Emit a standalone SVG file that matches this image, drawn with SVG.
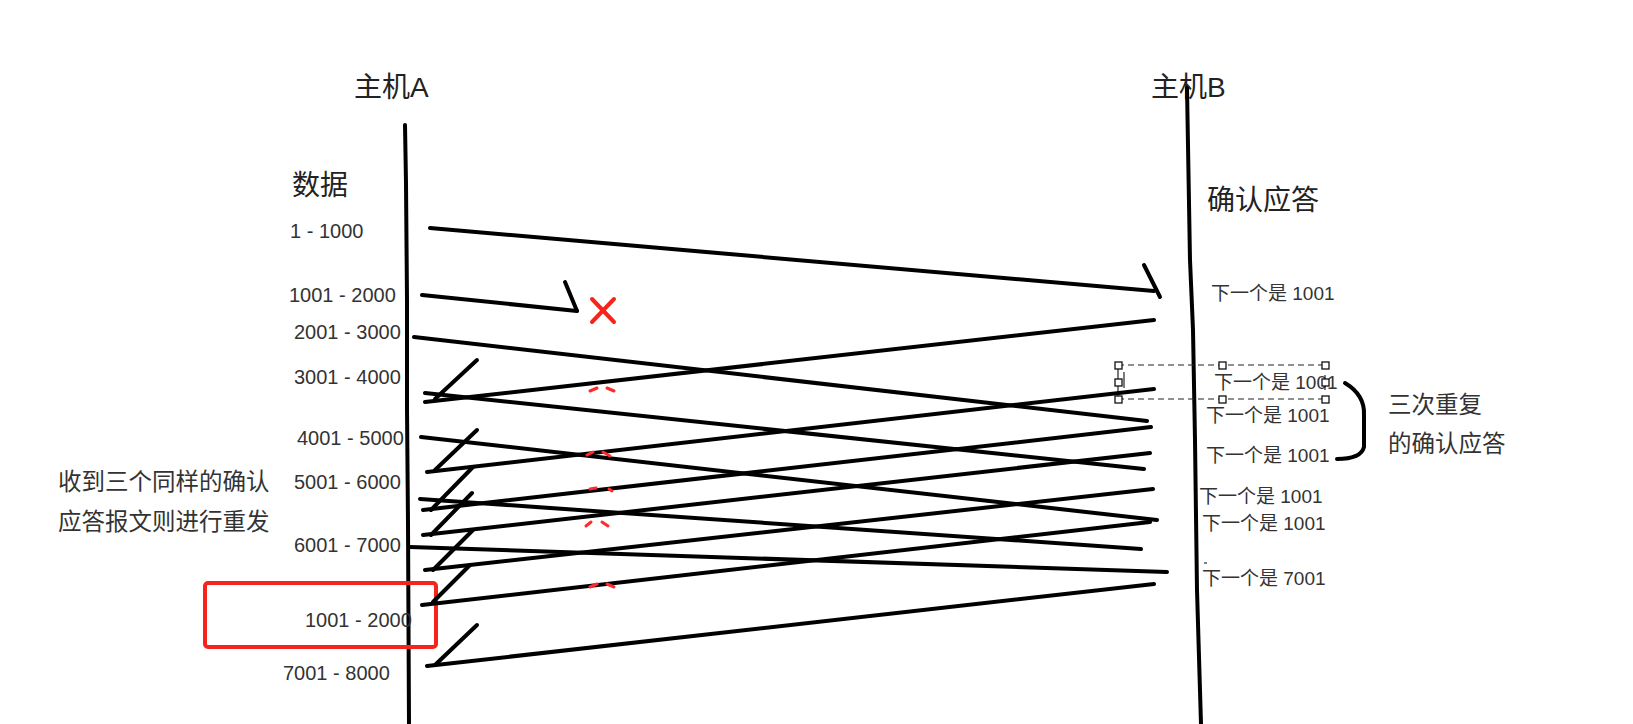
<svg xmlns="http://www.w3.org/2000/svg" width="1633" height="724" viewBox="0 0 1633 724">
<style>
.ln{fill:none;stroke:#000;stroke-width:4;stroke-linecap:round;stroke-linejoin:round}
.big{font-family:"Liberation Sans","Noto Sans CJK SC",sans-serif;font-size:28px;fill:#222}
.num{font-family:"Liberation Sans","Noto Sans CJK SC",sans-serif;font-size:20px;fill:#333}
.ack{font-family:"Liberation Sans","Noto Sans CJK SC",sans-serif;font-size:19px;fill:#333}
.note{font-family:"Noto Sans CJK SC","Liberation Sans",sans-serif;font-size:23.5px;fill:#333}
.red{fill:none;stroke:#f5251c;stroke-width:4;stroke-linecap:round}
.rmark{fill:none;stroke:#ff2a2a;stroke-width:3;stroke-linecap:round}
.hd{fill:#fff;stroke:#111;stroke-width:1.3}
</style>
<rect width="1633" height="724" fill="#fff"/>

<g id="hostA">
<text class="big" x="354" y="97">主机A</text>
<polyline class="ln" points="405,125 406,183 407,300 407,409 408,523 409,724"/>
</g>
<g id="hostB">
<text class="big" x="1151" y="97">主机B</text>
<polyline class="ln" points="1187,88 1190,260 1193,330 1195,440 1197,590 1201,724"/>
</g>

<g id="data-labels">
<text class="big" x="292" y="195">数据</text>
<text class="num" x="290" y="238">1 - 1000</text>
<text class="num" x="289" y="302">1001 - 2000</text>
<text class="num" x="294" y="339">2001 - 3000</text>
<text class="num" x="294" y="384">3001 - 4000</text>
<text class="num" x="297" y="445">4001 - 5000</text>
<text class="num" x="294" y="489">5001 - 6000</text>
<text class="num" x="294" y="552">6001 - 7000</text>
<text class="num" x="305" y="627">1001 - 2000</text>
<text class="num" x="283" y="680">7001 - 8000</text>
</g>

<g id="ack-labels">
<text class="big" x="1207" y="210">确认应答</text>
<text class="ack" x="1211" y="300">下一个是 1001</text>
<text class="ack" x="1214" y="389">下一个是 1001</text>
<text class="ack" x="1206" y="422">下一个是 1001</text>
<text class="ack" x="1206" y="462">下一个是 1001</text>
<text class="ack" x="1199" y="503">下一个是 1001</text>
<text class="ack" x="1202" y="530">下一个是 1001</text>
<text class="ack" x="1202" y="585">下一个是 7001</text>
<line x1="1204" y1="563" x2="1207" y2="563" stroke="#555" stroke-width="1.5"/>
</g>

<g id="note-left">
<text class="note" x="58" y="490">收到三个同样的确认</text>
<text class="note" x="58" y="530">应答报文则进行重发</text>
</g>
<g id="resend-box">
<rect x="205" y="583" width="231" height="64" rx="3" fill="none" stroke="#f5251c" stroke-width="4"/>
</g>

<g id="note-right">
<path class="ln" d="M1345,383 Q1365,395 1364,415 L1364,447 Q1361,459 1337,459" stroke-width="3"/>
<text class="note" x="1388" y="413">三次重复</text>
<text class="note" x="1388" y="452">的确认应答</text>
</g>

<g id="selection">
<g stroke="#222" stroke-width="1.2" stroke-dasharray="6,4" fill="none">
<line x1="1118" y1="365" x2="1325" y2="365"/>
<line x1="1118" y1="399" x2="1325" y2="399"/>
</g>
<g stroke="#222" stroke-width="1.2">
<line x1="1118" y1="365" x2="1118" y2="399"/>
<line x1="1325" y1="375" x2="1325" y2="390"/>
<line x1="1124" y1="372" x2="1124" y2="388"/>
</g>
<rect class="hd" x="1115" y="362" width="7" height="7"/>
<rect class="hd" x="1219" y="362" width="7" height="7"/>
<rect class="hd" x="1322" y="362" width="7" height="7"/>
<rect class="hd" x="1115" y="379" width="7" height="7"/>
<rect class="hd" x="1322" y="379" width="7" height="7"/>
<rect class="hd" x="1115" y="396" width="7" height="7"/>
<rect class="hd" x="1219" y="396" width="7" height="7"/>
<rect class="hd" x="1322" y="396" width="7" height="7"/>
</g>

<g id="connectors">
<line class="ln" x1="430" y1="228" x2="1154" y2="291"/>
<line class="ln" x1="1144" y1="265" x2="1160" y2="297"/>
<line class="ln" x1="422" y1="295" x2="577" y2="311"/>
<line class="ln" x1="565" y1="282" x2="577" y2="311"/>
<line class="ln" x1="414" y1="337" x2="1147" y2="421"/>
<line class="ln" x1="425" y1="393" x2="1144" y2="469"/>
<line class="ln" x1="421" y1="437" x2="1157" y2="520"/>
<line class="ln" x1="420" y1="499" x2="1141" y2="549"/>
<line class="ln" x1="410" y1="547" x2="1167" y2="572"/>
<line class="ln" x1="1154" y1="320" x2="425" y2="402"/>
<line class="ln" x1="477" y1="360" x2="435" y2="399"/>
<line class="ln" x1="1154" y1="389" x2="427" y2="472"/>
<line class="ln" x1="477" y1="430" x2="435" y2="470"/>
<line class="ln" x1="1151" y1="427" x2="423" y2="510"/>
<line class="ln" x1="473" y1="467" x2="431" y2="510"/>
<line class="ln" x1="1150" y1="453" x2="423" y2="535"/>
<line class="ln" x1="472" y1="493" x2="431" y2="535"/>
<line class="ln" x1="1153" y1="489" x2="425" y2="570"/>
<line class="ln" x1="473" y1="530" x2="433" y2="570"/>
<line class="ln" x1="1150" y1="522" x2="422" y2="605"/>
<line class="ln" x1="470" y1="565" x2="433" y2="602"/>
<line class="ln" x1="1154" y1="584" x2="427" y2="666"/>
<line class="ln" x1="477" y1="625" x2="435" y2="665"/>
</g>

<g id="loss-mark">
<line class="red" x1="592" y1="299" x2="614" y2="322"/>
<line class="red" x1="614" y1="299" x2="592" y2="322"/>
<path class="rmark" d="M590,391 L597,388 M607,388 L614,391"/>
<path class="rmark" d="M587,455 L593,452 M603,452 L610,456"/>
<path class="rmark" d="M590,489 L596,488 M609,489 L612,491"/>
<path class="rmark" d="M586,526 L591,522 M602,522 L608,526"/>
<path class="rmark" d="M590,587 L597,584 M607,584 L614,587"/>
</g>
</svg>
